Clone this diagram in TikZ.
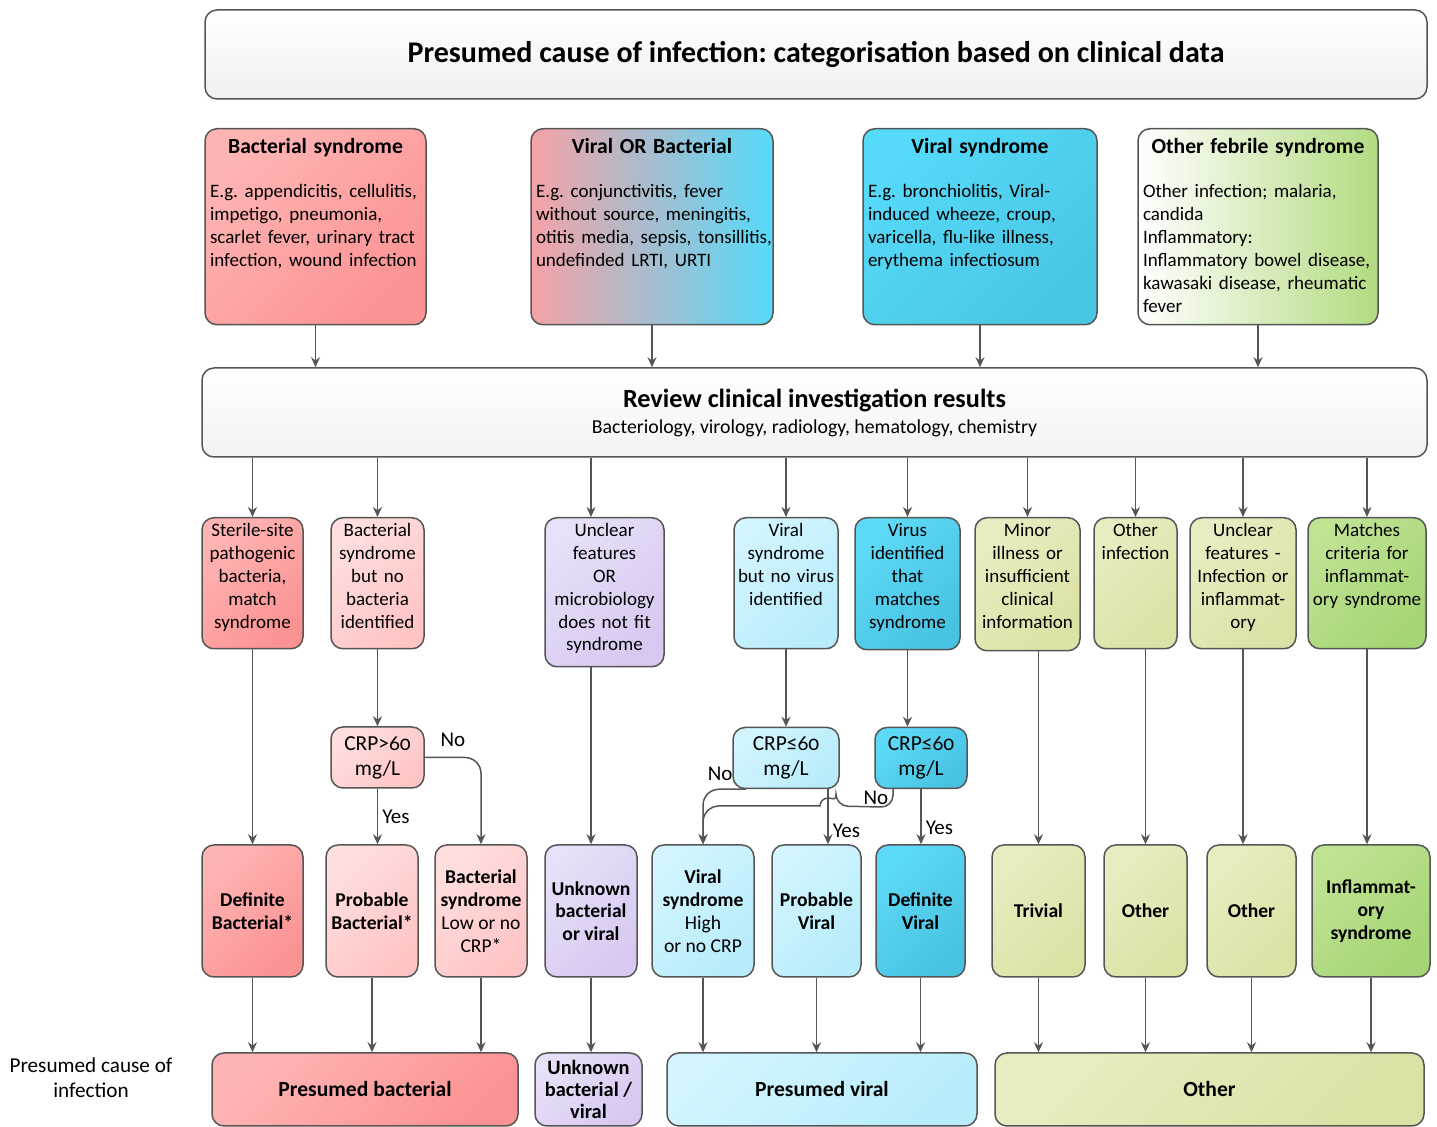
\documentclass[tikz,border=0pt]{standalone}
\usepackage{fontspec}
\setmainfont{Carlito}[Numbers=OldStyle]
\usepackage{tikz}
\usetikzlibrary{arrows.meta, positioning, calc}
\usepackage{xcolor}
\frenchspacing

\definecolor{edge}{HTML}{555555}
\definecolor{pkA1}{HTML}{FFB4B4}
\definecolor{pkA2}{HTML}{FB9393}
\definecolor{pkB1}{HTML}{FFDEDE}
\definecolor{pkB2}{HTML}{FFC5C5}
\definecolor{lav1}{HTML}{E8DFF8}
\definecolor{lav2}{HTML}{D8C8F1}
\definecolor{cyL1}{HTML}{D2F5FF}
\definecolor{cyL2}{HTML}{B8ECFB}
\definecolor{cyD1}{HTML}{5DDAF7}
\definecolor{cyD2}{HTML}{48C2E1}
\definecolor{kh1}{HTML}{E9ECC0}
\definecolor{kh2}{HTML}{DCE1A5}
\definecolor{gr1}{HTML}{C0E293}
\definecolor{gr2}{HTML}{A5D574}
\definecolor{vbPink}{HTML}{F5A2A6}
\definecolor{vbCyan}{HTML}{55DAF9}
\definecolor{feGreen}{HTML}{B2DB80}

\newcommand{\headtext}[2]{\parbox[c][88pt][t]{\linewidth}{\centering
  \fontsize{10.8}{12}\selectfont\textbf{#1}\par\vspace{10.5pt}
  \raggedright\fontsize{9.5}{11.5}\selectfont
  \begin{tabular}[t]{@{}l@{}}#2\end{tabular}}}
\newcommand{\celltext}[2]{\parbox[c][#1][t]{\linewidth}{\centering #2}}

\begin{document}
\begin{tikzpicture}[x=0.5pt, y=-0.5pt,
  box/.style={draw=edge, line width=0.75pt, rounded corners=6pt, align=center},
  head/.style={box, inner xsep=2.5pt, inner ysep=5pt, anchor=north},
  cell/.style={box, inner xsep=1pt, inner ysep=3pt, anchor=north,
               font=\fontsize{9.5}{11.4}\selectfont},
  crp/.style={box, minimum height=30.5pt, inner sep=1pt,
              font=\fontsize{10.7}{12.5}\selectfont},
  res/.style={box, minimum height=66pt, inner sep=1pt,
              font=\fontsize{9.8}{11.4}\selectfont},
  resb/.style={res, font=\bfseries\fontsize{9.8}{11.4}\selectfont},
  fin/.style={box, minimum height=36.5pt, inner sep=1pt,
              font=\bfseries\fontsize{10.8}{11.2}\selectfont},
  pinkA/.style={top color=pkA1, bottom color=pkA2, shading angle=45},
  pinkB/.style={top color=pkB1, bottom color=pkB2, shading angle=45},
  lav/.style={top color=lav1, bottom color=lav2, shading angle=45},
  cyL/.style={top color=cyL1, bottom color=cyL2, shading angle=45},
  cyD/.style={top color=cyD1, bottom color=cyD2, shading angle=45},
  kh/.style={top color=kh1, bottom color=kh2, shading angle=45},
  green/.style={top color=gr1, bottom color=gr2, shading angle=45},
  arr/.style={-{Stealth[length=5pt, width=4.5pt]}, line width=0.75pt, draw=edge},
  lbl/.style={font=\fontsize{10.5}{12}\selectfont, inner sep=2pt}
]
\useasboundingbox (0,0) rectangle (1437,1127);

\node[box, top color=white, bottom color=gray!12, minimum width=611pt,
      minimum height=44.5pt, font=\bfseries\fontsize{15}{17}\selectfont]
  (title) at (816,54.5) {Presumed cause of infection: categorisation based on clinical data};

% syndromes
\node[head, top color=pkA1, bottom color=pkA2, shading angle=45, text width=105.5pt]
  (bact) at (315.5,128) {\headtext{Bacterial syndrome}{E.g. appendicitis, cellulitis,\\
  impetigo, pneumonia,\\scarlet fever, urinary tract\\infection, wound infection}};
\node[head, left color=vbPink, right color=vbCyan, text width=116pt]
  (vorb) at (652,128) {\headtext{Viral OR Bacterial}{E.g. conjunctivitis, fever\\
  without source, meningitis,\\otitis media, sepsis, tonsillitis,\\undefinded LRTI, URTI}};
\node[head, top color=vbCyan, bottom color=cyD2!85!vbCyan, shading angle=45, text width=112pt]
  (viral) at (980,128) {\headtext{Viral syndrome}{E.g. bronchiolitis, Viral-\\
  induced wheeze, croup,\\varicella, flu-like illness,\\erythema infectiosum}};
\node[head, left color=white, right color=feGreen, text width=115pt]
  (other) at (1258,128) {\headtext{Other febrile syndrome}{Other infection; malaria,\\
  candida\\Inflammatory:\\Inflammatory bowel disease,\\kawasaki disease, rheumatic\\fever}};

\node[box, top color=white, bottom color=gray!10, minimum width=612.5pt, minimum height=44.5pt]
  (review) at (814.5,412.5) {\fontsize{13.1}{14}\selectfont\textbf{Review clinical investigation results}\\[1pt]
  \fontsize{9.9}{11}\selectfont Bacteriology, virology, radiology, hematology, chemistry};

% investigation outcomes
\node[cell, pinkA, text width=48.5pt] (sterile) at (252.5,517)
  {\celltext{59.5pt}{Sterile-site\\pathogenic\\bacteria,\\match\\syndrome}};
\node[cell, pinkB, text width=44.5pt] (bnb) at (377.5,517)
  {\celltext{59.5pt}{Bacterial\\syndrome\\but no\\bacteria\\identified}};
\node[cell, lav, text width=57.5pt] (unc) at (604.5,517)
  {\celltext{68.5pt}{Unclear\\features\\OR\\microbiology\\does not fit\\syndrome}};
\node[cell, cyL, text width=50pt] (vnv) at (786,517)
  {\celltext{59.5pt}{Viral\\syndrome\\but no virus\\identified}};
\node[cell, cyD, text width=50.5pt] (vid) at (907.5,517)
  {\celltext{60pt}{Virus\\identified\\that\\matches\\syndrome}};
\node[cell, kh, text width=50.5pt] (minor) at (1027.5,517)
  {\celltext{60.5pt}{Minor\\illness or\\insufficient\\clinical\\information}};
\node[cell, kh, text width=39.5pt] (oinf) at (1135.5,517)
  {\celltext{59.5pt}{Other\\infection}};
\node[cell, kh, text width=51pt] (unc2) at (1243,517)
  {\celltext{59.5pt}{Unclear\\features -\\Infection or\\inflammat-\\ory}};
\node[cell, green, text width=57pt] (match) at (1367,517)
  {\celltext{59.5pt}{Matches\\criteria for\\inflammat-\\ory syndrome}};

% CRP checks
\node[crp, pinkB, minimum width=46.5pt] (crpb) at (377.5,757.5) {CRP>60\\mg/L};
\node[crp, cyL, minimum width=53pt] (crpv) at (786,758) {CRP≤60\\mg/L};
\node[crp, cyD, minimum width=46pt] (crpd) at (921,758) {CRP≤60\\mg/L};

% categories
\node[resb, pinkA, minimum width=50.5pt] (defb) at (252.5,911) {Definite\\Bacterial*};
\node[resb, pinkB, minimum width=46pt] (probb) at (372,911) {Probable\\Bacterial*};
\node[res, pinkB, minimum width=46pt] (lowb) at (481,911)
  {\textbf{Bacterial}\\\textbf{syndrome}\\Low or no\\CRP*};
\node[resb, lav, minimum width=46pt] (unkb) at (591,911) {Unknown\\bacterial\\or viral};
\node[res, cyL, minimum width=51pt] (vhigh) at (703,911)
  {\textbf{Viral}\\\textbf{syndrome}\\High\\or no CRP};
\node[resb, cyL, minimum width=44.5pt] (probv) at (816.5,911) {Probable\\Viral};
\node[resb, cyD, minimum width=44.5pt] (defv) at (920.5,911) {Definite\\Viral};
\node[resb, kh, minimum width=46.5pt] (triv) at (1038.5,911) {Trivial};
\node[resb, kh, minimum width=41.5pt] (oth1) at (1145.5,911) {Other};
\node[resb, kh, minimum width=44.5pt] (oth2) at (1251.5,911) {Other};
\node[resb, green, minimum width=59pt] (infl) at (1371,911) {Inflammat-\\ory\\syndrome};

% presumed cause
\node[fin, pinkA, minimum width=153pt] (pbact) at (365,1089.5) {Presumed bacterial};
\node[fin, lav, minimum width=53.5pt, font=\bfseries\fontsize{10.2}{11.2}\selectfont]
  (unkf) at (588.5,1089.5) {Unknown\\bacterial /\\viral};
\node[fin, cyL, minimum width=155pt] (pviral) at (822,1089.5) {Presumed viral};
\node[fin, kh, minimum width=214.5pt] (oth) at (1209.5,1089.5) {Other};
\node[font=\fontsize{10.6}{12.5}\selectfont, align=center] (cause) at (91,1078)
  {Presumed cause of\\infection};

% connectors
\foreach \n in {bact, vorb, viral, other}
  \draw[arr] (\n.south) -- (\n.south |- review.north);
\foreach \n in {sterile, bnb, vnv, vid, minor, oinf, unc2, match}
  \draw[arr] (review.south -| \n.north) -- (\n.north);
\draw[arr] (review.south -| unkb.north) -- (unkb.north |- unc.north);

\draw[arr] (sterile) -- (defb);
\draw[arr] (bnb) -- (crpb);
\draw[arr] (unkb.north |- unc.south) -- (unkb);
\draw[arr] (vnv) -- (crpv);
\draw[arr] (vid.south) -- (vid.south |- crpd.north);
\draw[arr] (triv.north |- minor.south) -- (triv);
\draw[arr] (oth1.north |- oinf.south) -- (oth1);
\draw[arr] (unc2.south) -- (unc2.south |- oth2.north);
\draw[arr] (match.south) -- (match.south |- infl.north);

\draw[arr] (crpb.south) -- node[lbl, right] {Yes} (crpb.south |- probb.north);
\draw[arr, rounded corners=8pt] (crpb.east) -| node[lbl, pos=0.25, above=3pt] {No} (lowb.north);
\draw[arr] ([xshift=21pt]crpv.south) -- node[lbl, right, pos=0.75] {Yes}
  ([xshift=21pt]crpv.south |- probv.north);
\draw[arr, rounded corners=8pt] ([xshift=-20pt]crpv.south) -| node[lbl, pos=0.3, above=2pt] {No}
  (vhigh.north);
\draw[arr, rounded corners=6pt] ([xshift=-14pt]crpd.south) -- node[lbl, left] {No} ++(0,18)
  -- (836,806) [sharp corners] arc[start angle=0, end angle=-180, radius=8]
  [rounded corners=8pt] -- (vhigh.north |- 0,806) -- (vhigh.north);
\draw[arr] (crpd.south) -- node[lbl, right, pos=0.7] {Yes} (crpd.south |- defv.north);

\foreach \a/\b in {defb/pbact, probb/pbact, lowb/pbact, unkb/unkf, vhigh/pviral,
  probv/pviral, defv/pviral, triv/oth, oth1/oth, oth2/oth, infl/oth}
  \draw[arr] (\a.south) -- (\a.south |- \b.north);
\end{tikzpicture}
\end{document}
